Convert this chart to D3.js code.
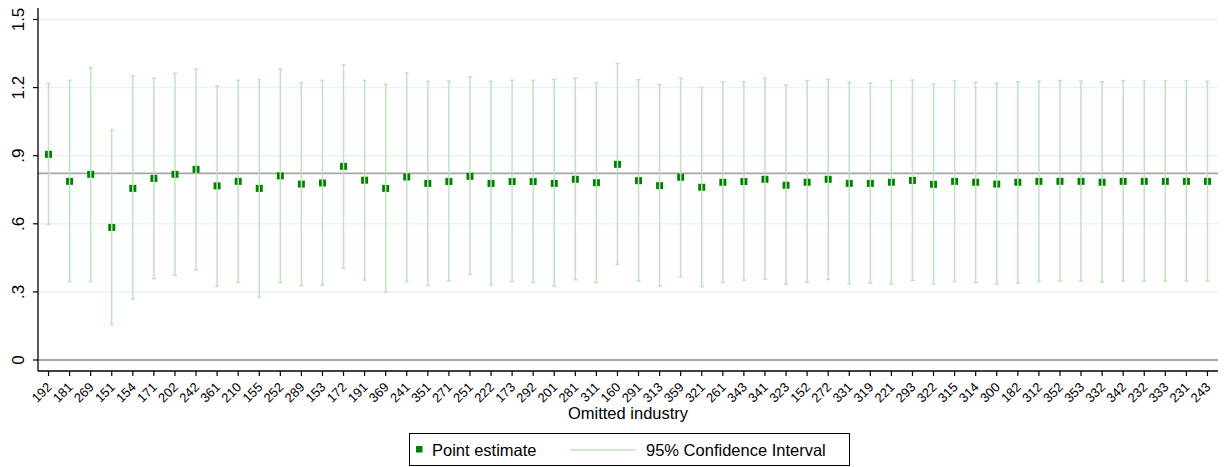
<!DOCTYPE html>
<html>
<head>
<meta charset="utf-8">
<script src="https://cdn.jsdelivr.net/npm/d3@7"></script>
<style>
  html, body { margin: 0; padding: 0; background: #fff; }
  svg { display: block; font-family: "Liberation Sans", Arial, sans-serif; }
</style>
</head>
<body>
<svg id="chart" width="1225" height="467"></svg>
<script>
const categories = ["192","181","269","151","154","171","202","242","361","210","155","252","289","153","172","191","369","241","351","271","251","222","173","292","201","281","311","160","291","313","359","321","261","343","341","323","152","272","331","319","221","293","322","315","314","300","182","312","352","353","332","342","232","333","231","243"];

const pointEstimate = [0.906,0.787,0.818,0.584,0.756,0.800,0.818,0.840,0.767,0.787,0.756,0.811,0.775,0.780,0.853,0.792,0.756,0.806,0.778,0.786,0.809,0.778,0.786,0.786,0.778,0.796,0.781,0.862,0.790,0.768,0.805,0.761,0.783,0.786,0.796,0.770,0.783,0.796,0.778,0.778,0.783,0.791,0.774,0.787,0.783,0.775,0.783,0.787,0.787,0.787,0.783,0.787,0.787,0.787,0.787,0.787];

const ciUpper = [1.219,1.232,1.288,1.015,1.251,1.241,1.263,1.282,1.207,1.232,1.235,1.282,1.222,1.232,1.301,1.232,1.214,1.264,1.228,1.228,1.247,1.228,1.232,1.232,1.236,1.241,1.222,1.307,1.235,1.213,1.242,1.201,1.226,1.226,1.241,1.211,1.231,1.236,1.223,1.220,1.231,1.233,1.216,1.229,1.223,1.219,1.225,1.228,1.231,1.229,1.226,1.231,1.229,1.229,1.229,1.228];

const ciLower = [0.598,0.345,0.346,0.156,0.267,0.358,0.373,0.396,0.325,0.342,0.276,0.341,0.327,0.329,0.404,0.352,0.300,0.346,0.329,0.349,0.377,0.330,0.345,0.341,0.326,0.354,0.341,0.421,0.348,0.326,0.367,0.323,0.341,0.352,0.357,0.335,0.342,0.355,0.335,0.339,0.335,0.351,0.335,0.346,0.341,0.335,0.339,0.346,0.348,0.348,0.344,0.348,0.348,0.348,0.348,0.348];

const referenceValue = 0.822;
const yTickValues = [0, 0.3, 0.6, 0.9, 1.2, 1.5];
const yTickLabels = ["0", ".3", ".6", ".9", "1.2", "1.5"];
const xAxisTitle = "Omitted industry";
const legendLabels = ["Point estimate", "95% Confidence Interval"];

const data = categories.map((c, i) => ({ cat: c, est: pointEstimate[i], lo: ciLower[i], hi: ciUpper[i] }));

const svg = d3.select("#chart");
const plotLeft = 38, plotRight = 1218, axisY = 371, plotTop = 8;

const x = d3.scalePoint().domain(categories).range([plotLeft, plotRight]).padding(0.5);
const y = d3.scaleLinear().domain([0, 1.5]).range([360, 19.5]);

const ciColor = "#bfe3bf";
const markColor = "#008000";

// gridlines
svg.append("g").selectAll("line").data(yTickValues.filter(v => v > 0)).join("line")
  .attr("x1", plotLeft).attr("x2", plotRight)
  .attr("y1", d => y(d)).attr("y2", d => y(d))
  .attr("stroke", "#eaf2f2").attr("stroke-width", 1.5);

// zero line
svg.append("line").attr("x1", plotLeft).attr("x2", plotRight)
  .attr("y1", y(0)).attr("y2", y(0)).attr("stroke", "#8a8a8a").attr("stroke-width", 1.5);

// reference line
svg.append("line").attr("x1", plotLeft).attr("x2", plotRight)
  .attr("y1", y(referenceValue)).attr("y2", y(referenceValue)).attr("stroke", "#a6a6a6").attr("stroke-width", 1.6);

// markers
const ms = 7;
svg.append("g").selectAll("rect").data(data).join("rect")
  .attr("x", d => x(d.cat) - ms / 2).attr("y", d => y(d.est) - ms / 2)
  .attr("width", ms).attr("height", ms).attr("fill", markColor);

// CI lines (drawn over markers)
const ci = svg.append("g");
ci.selectAll("line.ci").data(data).join("line").attr("class", "ci")
  .attr("x1", d => x(d.cat)).attr("x2", d => x(d.cat))
  .attr("y1", d => y(d.lo)).attr("y2", d => y(d.hi))
  .attr("stroke", ciColor).attr("stroke-width", 1.5);
ci.selectAll("line.capH").data(data).join("line").attr("class", "capH")
  .attr("x1", d => x(d.cat) - 2).attr("x2", d => x(d.cat) + 2)
  .attr("y1", d => y(d.hi)).attr("y2", d => y(d.hi))
  .attr("stroke", ciColor).attr("stroke-width", 1.5);
ci.selectAll("line.capL").data(data).join("line").attr("class", "capL")
  .attr("x1", d => x(d.cat) - 2).attr("x2", d => x(d.cat) + 2)
  .attr("y1", d => y(d.lo)).attr("y2", d => y(d.lo))
  .attr("stroke", ciColor).attr("stroke-width", 1.5);

// y axis
svg.append("line").attr("x1", plotLeft).attr("x2", plotLeft).attr("y1", plotTop).attr("y2", axisY)
  .attr("stroke", "#000").attr("stroke-width", 1.3);
const yt = svg.append("g").selectAll("g").data(yTickValues).join("g");
yt.append("line").attr("x1", plotLeft - 5).attr("x2", plotLeft).attr("y1", d => y(d)).attr("y2", d => y(d))
  .attr("stroke", "#000").attr("stroke-width", 1.2);
yt.append("text").attr("transform", d => `translate(24,${y(d)}) rotate(-90)`)
  .attr("text-anchor", "middle").attr("font-size", 17).attr("fill", "#000")
  .text((d, i) => yTickLabels[i]);

// x axis
svg.append("line").attr("x1", plotLeft).attr("x2", plotRight).attr("y1", axisY).attr("y2", axisY)
  .attr("stroke", "#000").attr("stroke-width", 1.3);
const xt = svg.append("g").selectAll("g").data(categories).join("g");
xt.append("line").attr("x1", d => x(d)).attr("x2", d => x(d)).attr("y1", axisY).attr("y2", axisY + 5)
  .attr("stroke", "#000").attr("stroke-width", 1.2);
xt.append("text").attr("transform", d => `translate(${x(d) + 4},${axisY + 17}) rotate(-45)`)
  .attr("text-anchor", "end").attr("font-size", 13).attr("fill", "#000")
  .text(d => d);

// axis title
svg.append("text").attr("x", 628).attr("y", 419).attr("text-anchor", "middle")
  .attr("font-size", 16.5).attr("fill", "#000").text(xAxisTitle);

// legend
const lg = svg.append("g");
lg.append("rect").attr("x", 409.5).attr("y", 433.5).attr("width", 440).attr("height", 32)
  .attr("fill", "#fff").attr("stroke", "#000").attr("stroke-width", 1);
lg.append("rect").attr("x", 416).attr("y", 446).attr("width", 6.5).attr("height", 6.5).attr("fill", markColor);
lg.append("text").attr("x", 432).attr("y", 456).attr("font-size", 16.5).attr("fill", "#000").text(legendLabels[0]);
lg.append("line").attr("x1", 570).attr("x2", 636).attr("y1", 450).attr("y2", 450)
  .attr("stroke", ciColor).attr("stroke-width", 1.5);
lg.append("text").attr("x", 646).attr("y", 456).attr("font-size", 16.5).attr("fill", "#000").text(legendLabels[1]);
</script>
</body>
</html>
